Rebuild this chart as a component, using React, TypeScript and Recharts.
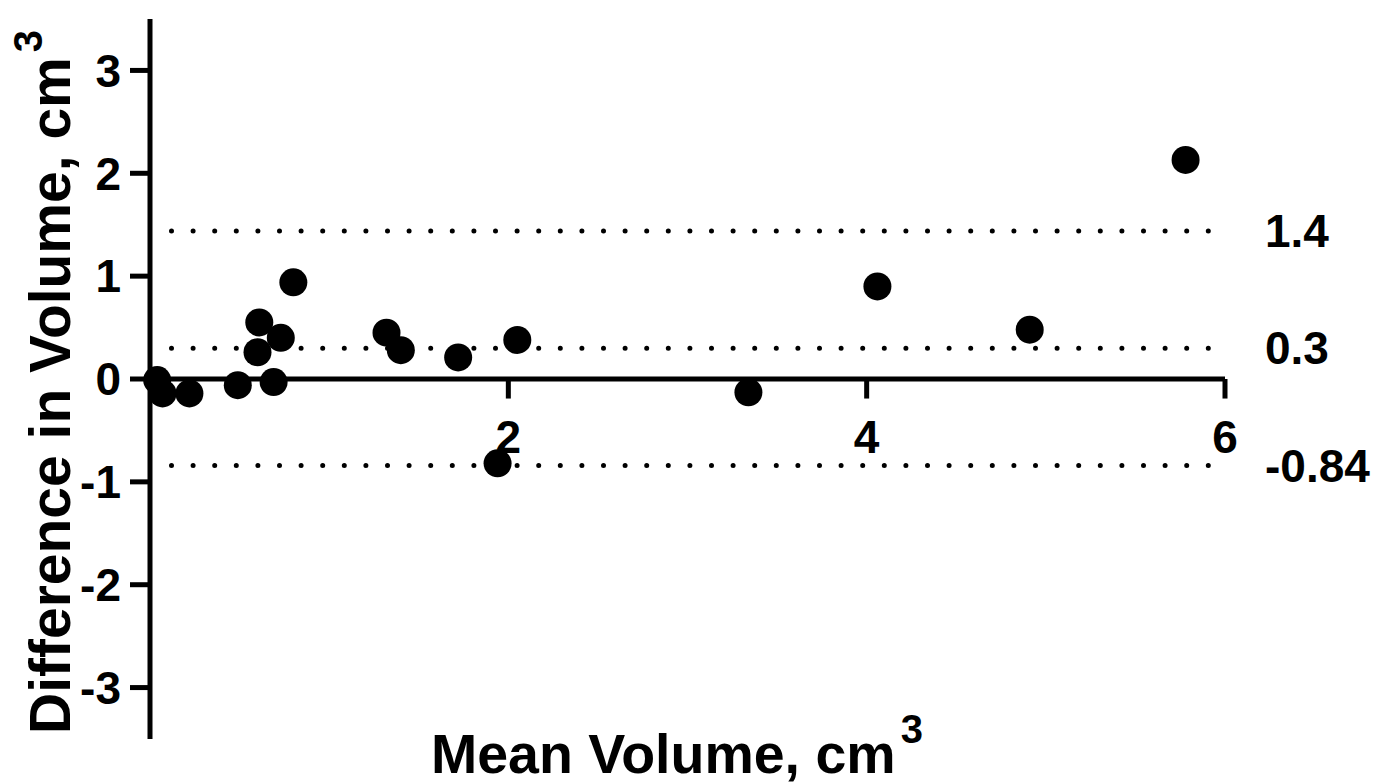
import React from 'react';
import { ScatterChart, Scatter, XAxis, YAxis, ReferenceLine } from 'recharts';

// Bland-Altman style data: mean volume vs difference (cm3)
const meanVolume = [0.04, 0.07, 0.22, 0.49, 0.69, 0.6, 0.61, 0.73, 0.8, 1.32, 1.4, 1.72, 2.05, 1.94, 3.34, 4.06, 4.91, 5.78];
const diffVolume = [-0.01, -0.14, -0.14, -0.06, -0.03, 0.26, 0.55, 0.4, 0.94, 0.45, 0.28, 0.21, 0.38, -0.82, -0.13, 0.9, 0.48, 2.13];

const xTicks = [2, 4, 6];
const yTicks = [-3, -2, -1, 0, 1, 2, 3];

// bias and limits of agreement
const limitValues = [1.44, 0.3, -0.84];
const limitLabels = ['1.4', '0.3', '-0.84'];

const FONT = "'Liberation Sans', Arial, Helvetica, sans-serif";

const points = meanVolume.map((x, i) => ({ x, y: diffVolume[i] }));

const labelStyle = { fontSize: 46, fontWeight: 700, fill: '#000', fontFamily: FONT };

const Dot = (props: any) => <circle cx={props.cx} cy={props.cy} r={14} fill="#000" />;

const App: React.FC = () => {
  return (
    <div style={{ position: 'absolute', left: 0, top: 0, width: 1384, height: 784, background: '#fff', fontFamily: FONT }}>
      <ScatterChart width={1384} height={784} margin={{ top: 19, right: 159, bottom: 45, left: 0 }}>
        <XAxis type="number" dataKey="x" domain={[0, 6]} hide />
        <YAxis
          type="number"
          dataKey="y"
          domain={[-3.5, 3.5]}
          ticks={yTicks}
          interval={0}
          width={150}
          allowDataOverflow
          axisLine={{ stroke: '#000', strokeWidth: 5 }}
          tickLine={{ stroke: '#000', strokeWidth: 5 }}
          tickSize={20}
          tickMargin={9}
          tick={labelStyle}
        />
        {limitValues.map((v, i) => (
          <ReferenceLine
            key={`lim-${i}`}
            segment={[{ x: 0.12, y: v }, { x: 6, y: v }]}
            stroke="#000"
            strokeWidth={5}
            strokeDasharray="0 21.6"
            strokeLinecap="round"
            label={{ value: limitLabels[i], position: 'right', offset: 40, ...labelStyle }}
          />
        ))}
        <ReferenceLine y={0} stroke="#000" strokeWidth={5} />
        {xTicks.map((t) => (
          <ReferenceLine
            key={`xt-${t}`}
            segment={[{ x: t, y: 0 }, { x: t, y: -0.19 }]}
            stroke="#000"
            strokeWidth={5}
            label={{ value: String(t), position: 'bottom', offset: 22, ...labelStyle }}
          />
        ))}
        <Scatter data={points} fill="#000" shape={Dot} isAnimationActive={false} />
      </ScatterChart>

      <div
        style={{
          position: 'absolute',
          left: 431,
          top: 727,
          fontSize: 55.5,
          lineHeight: '55.5px',
          fontWeight: 700,
          whiteSpace: 'nowrap',
          color: '#000',
        }}
      >
        Mean Volume, cm
        <span style={{ fontSize: 40, lineHeight: '40px', position: 'relative', top: -30, marginLeft: 5 }}>3</span>
      </div>

      <div
        style={{
          position: 'absolute',
          left: 22,
          top: 734,
          fontSize: 57,
          lineHeight: '57px',
          fontWeight: 700,
          whiteSpace: 'nowrap',
          color: '#000',
          transformOrigin: '0 0',
          transform: 'rotate(-90deg)',
        }}
      >
        Difference in Volume, cm
        <span style={{ fontSize: 40, lineHeight: '40px', position: 'relative', top: -28, marginLeft: 5 }}>3</span>
      </div>
    </div>
  );
};

export default App;
